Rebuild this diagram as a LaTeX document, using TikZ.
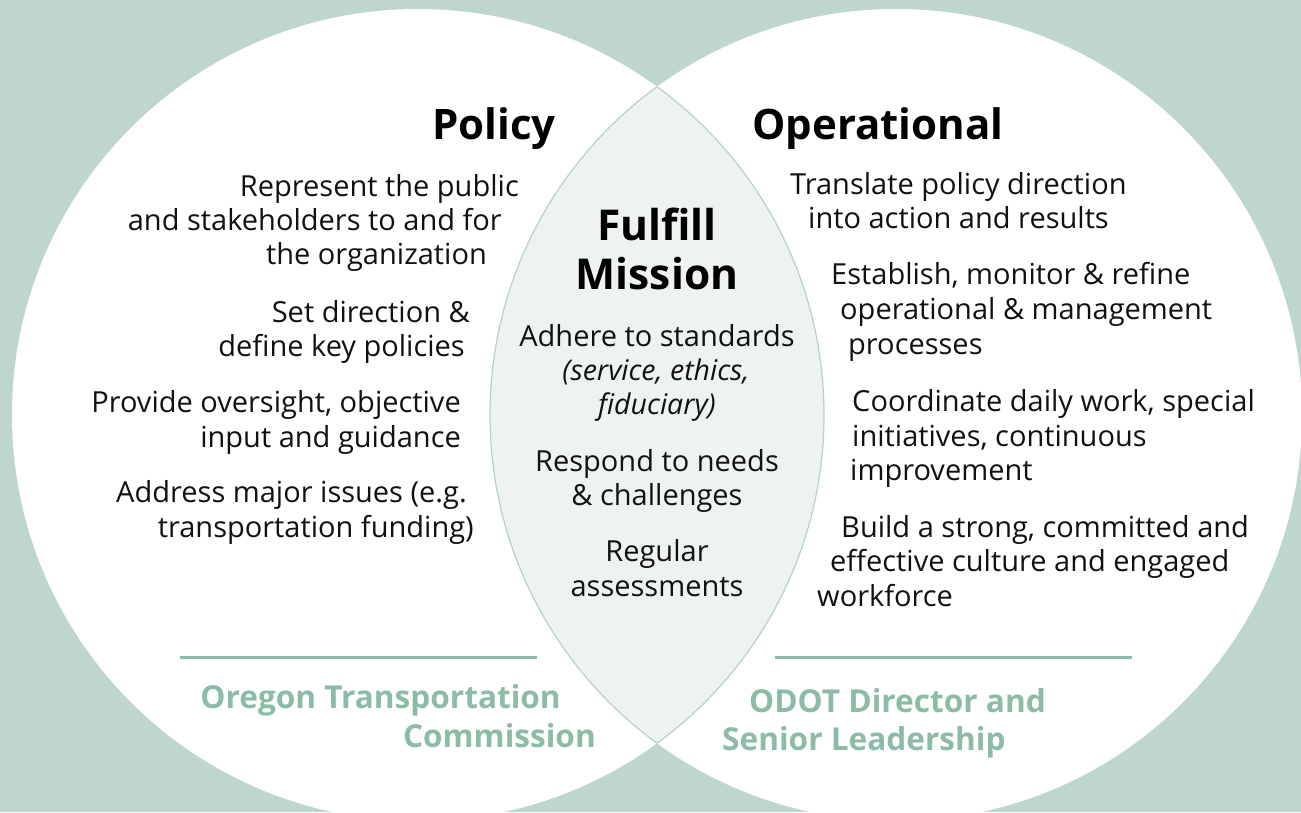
\documentclass[tikz,border=0pt]{standalone}
\usepackage{fontspec}
\setmainfont{Open Sans}
\definecolor{bgteal}{RGB}{191,214,208}
\definecolor{lensfill}{RGB}{238,243,241}
\definecolor{lensline}{RGB}{180,210,202}
\definecolor{greentxt}{RGB}{140,187,166}
\definecolor{bodytxt}{RGB}{17,17,17}
\tikzset{
  body/.style={font=\fontsize{29}{34}\selectfont, text=bodytxt, inner sep=0pt},
  bodyit/.style={body, font=\fontsize{28.5}{34}\selectfont\itshape},
  head/.style={font=\fontsize{42}{48}\selectfont\bfseries, text=black, inner sep=0pt},
  mission/.style={font=\fontsize{42.5}{48}\selectfont\bfseries, text=black, inner sep=0pt},
  grn/.style={font=\fontsize{31.6}{38}\selectfont\bfseries, text=greentxt, inner sep=0pt},
  rule/.style={draw=greentxt, line width=3pt}
}
\begin{document}
\begin{tikzpicture}[x=1pt,y=-1pt]
\useasboundingbox (0,0) rectangle (1301,812);
\clip (0,0) rectangle (1301,812);
\fill[bgteal] (0,0) rectangle (1301,812);
\coordinate (cl) at (418,415);
\coordinate (cr) at (896,415);
\fill[white] (cl) circle (406);
\fill[white] (cr) circle (406);
\begin{scope}
  \clip (cl) circle (406);
  \fill[lensfill] (cr) circle (406);
  \draw[lensline, line width=1.2pt] (cr) circle (406);
\end{scope}
\begin{scope}
  \clip (cr) circle (406);
  \draw[lensline, line width=1.2pt] (cl) circle (406);
\end{scope}

% headings
\node[head, anchor=base east] (policy) at (556,139) {Policy};
\node[head, anchor=base west] (oper) at (752,139) {Operational};

% left column
\node[body, anchor=base east] (p1a) at (519,196) {Represent the public};
\node[body, anchor=base east] (p1b) at (502,230) {and stakeholders to and for};
\node[body, anchor=base east] (p1c) at (487,264) {the organization};
\node[body, anchor=base east] (p2a) at (470,322) {Set direction \&};
\node[body, anchor=base east] (p2b) at (465,356) {define key policies};
\node[body, anchor=base east] (p3a) at (461,412) {Provide oversight, objective};
\node[body, anchor=base east] (p3b) at (461,447) {input and guidance};
\node[body, anchor=base east] (p4a) at (467,502) {Address major issues (e.g.};
\node[body, anchor=base east] (p4b) at (474,537) {transportation funding)};

% middle
\node[mission, anchor=base] (m1) at (657,240) {Fulfill};
\node[mission, anchor=base] (m2) at (657,289) {Mission};
\node[body, anchor=base] (c1a) at (657,346) {Adhere to standards};
\node[bodyit, anchor=base] (c1b) at (656,380) {(service, ethics,};
\node[bodyit, anchor=base] (c1c) at (657,414) {fiduciary)};
\node[body, anchor=base] (c2a) at (657,471) {Respond to needs};
\node[body, anchor=base] (c2b) at (657,505) {\& challenges};
\node[body, anchor=base] (c3a) at (657,561) {Regular};
\node[body, anchor=base] (c3b) at (657,596) {assessments};

% right column
\node[body, anchor=base west] (o1a) at (790,194) {Translate policy direction};
\node[body, anchor=base west] (o1b) at (808,228) {into action and results};
\node[body, anchor=base west] (o2a) at (831,284) {Establish, monitor \& refine};
\node[body, anchor=base west] (o2b) at (840,319) {operational \& management};
\node[body, anchor=base west] (o2c) at (848,354) {processes};
\node[body, anchor=base west] (o3a) at (852,411) {Coordinate daily work, special};
\node[body, anchor=base west] (o3b) at (852,446) {initiatives, continuous};
\node[body, anchor=base west] (o3c) at (850,480) {improvement};
\node[body, anchor=base west] (o4a) at (841,537) {Build a strong, committed and};
\node[body, anchor=base west] (o4b) at (830,571) {effective culture and engaged};
\node[body, anchor=base west] (o4c) at (817,606) {workforce};

% rules
\coordinate (l1) at (180,657);
\coordinate (l2) at (537,657);
\coordinate (r1) at (775,657);
\coordinate (r2) at (1132,657);
\draw[rule] (l1) -- (l2);
\draw[rule] (r1) -- (r2);

% bottom labels
\node[grn, anchor=base east] (otc1) at (561,708) {Oregon Transportation};
\node[grn, anchor=base east] (otc2) at (596,747) {Commission};
\node[grn, anchor=base west] (odot1) at (749,712) {ODOT Director and};
\node[grn, anchor=base west] (odot2) at (722,750) {Senior Leadership};
\end{tikzpicture}
\end{document}
